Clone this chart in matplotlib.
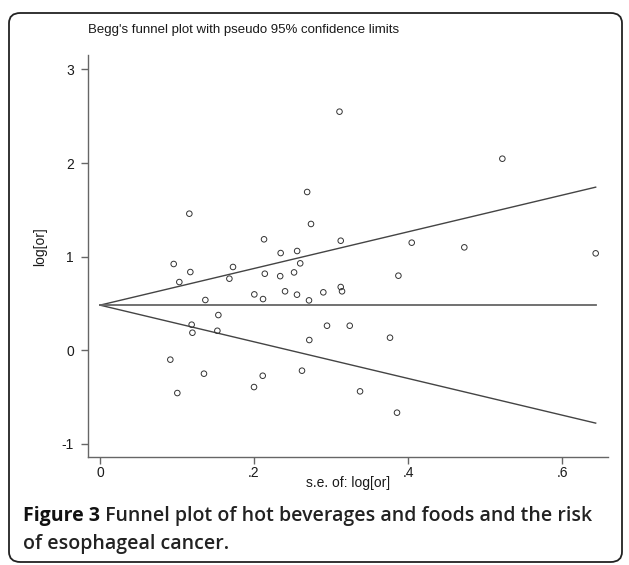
import matplotlib
matplotlib.use("Agg")
import matplotlib.pyplot as plt
import numpy as np
from matplotlib.patches import FancyBboxPatch

# ---- data ----
se = [0.311, 0.269, 0.116, 0.274, 0.213, 0.3126, 0.2346, 0.256, 0.0957, 0.1173,
      0.1727, 0.260, 0.214, 0.234, 0.252, 0.168, 0.103, 0.1368, 0.2004, 0.2117,
      0.2403, 0.2558, 0.2714, 0.290, 0.3126, 0.3143, 0.1537, 0.119, 0.120, 0.1524,
      0.2948, 0.3243, 0.2718, 0.0913, 0.135, 0.2113, 0.2623, 0.200, 0.1004, 0.3377,
      0.3857, 0.6437, 0.3875, 0.3766, 0.5225, 0.4048, 0.4731]
log_or = [2.549, 1.690, 1.458, 1.348, 1.184, 1.169, 1.037, 1.059, 0.920, 0.834,
          0.888, 0.927, 0.816, 0.790, 0.830, 0.763, 0.727, 0.535, 0.595, 0.545,
          0.628, 0.592, 0.531, 0.617, 0.674, 0.628, 0.374, 0.271, 0.185, 0.206,
          0.260, 0.260, 0.107, -0.103, -0.253, -0.275, -0.221, -0.396, -0.460, -0.442,
          -0.670, 1.034, 0.795, 0.132, 2.046, 1.148, 1.098]
pooled = 0.48
x_ticks = [0, 0.2, 0.4, 0.6]
x_ticklabels = ["0", ".2", ".4", ".6"]
y_ticks = [-1, 0, 1, 2, 3]
y_ticklabels = ["-1", "0", "1", "2", "3"]
title = "Begg's funnel plot with pseudo 95% confidence limits"
xlabel = "s.e. of: log[or]"
ylabel = "log[or]"
cap_bold = "Figure 3"
cap_rest1 = " Funnel plot of hot beverages and foods and the risk"
cap_line2 = "of esophageal cancer."

W, H = 629, 565
fig = plt.figure(figsize=(W / 100, H / 100), dpi=100)
fig.patch.set_facecolor("white")

def fx(px):
    return px / W

def fy(py):
    return 1 - py / H

# rounded frame
frame = FancyBboxPatch((fx(9), fy(562)), fx(613), (562 - 13) / H,
                       boxstyle="round,pad=0,rounding_size=0.018",
                       transform=fig.transFigure, facecolor="none",
                       edgecolor="#222222", linewidth=1.3)
fig.patches.append(frame)

ax = fig.add_axes([fx(88), fy(457), (608 - 88) / W, (457 - 55) / H])
ax.set_xlim(-0.0156, 0.6597)
ax.set_ylim(-1.144, 3.155)

# funnel lines
smax = max(se)
s_line = np.array([0.0, smax])
axc = "#444444"
ax.plot(s_line, pooled + 1.96 * s_line, color=axc, lw=1.0)
ax.plot(s_line, pooled - 1.96 * s_line, color=axc, lw=1.0)
ax.plot(s_line, [pooled, pooled], color="#666666", lw=1.3)

ax.scatter(se, log_or, s=16, facecolors="none", edgecolors="#333333",
           linewidths=0.7, zorder=3)

for side in ["top", "right"]:
    ax.spines[side].set_visible(False)
for side in ["left", "bottom"]:
    ax.spines[side].set_color("#666666")
    ax.spines[side].set_linewidth(1.0)

ax.set_xticks(x_ticks)
ax.set_xticklabels(x_ticklabels)
ax.set_yticks(y_ticks)
ax.set_yticklabels(y_ticklabels)
ax.tick_params(axis="both", colors="#666666", length=5, width=1.0,
               labelcolor="#1a1a1a", labelsize=10)
ax.tick_params(axis="x", pad=1.5)
ax.tick_params(axis="y", pad=5)
for lab in ax.get_xticklabels() + ax.get_yticklabels():
    lab.set_fontfamily("Liberation Sans")

fig.text(fx(88.5), fy(30), title, ha="left", va="center", fontsize=9.5,
         family="Liberation Sans", color="#1a1a1a")
fig.text(fx(348), fy(483), xlabel, ha="center", va="center", fontsize=10,
         family="Liberation Sans", color="#1a1a1a")
fig.text(fx(40), fy(247), ylabel, ha="center", va="center", rotation=90,
         fontsize=10, family="Liberation Sans", color="#1a1a1a")

# caption
cap_size = 14
t1 = fig.text(fx(23), fy(516), cap_bold, ha="left", va="center", fontsize=cap_size,
              family="Open Sans", fontweight="bold", color="#111111")
fig.canvas.draw()
bb = t1.get_window_extent()
fig.text(bb.x1 / W, fy(516), cap_rest1, ha="left", va="center", fontsize=cap_size,
         family="Open Sans", fontweight="semibold", color="#222222")
fig.text(fx(23), fy(544), cap_line2, ha="left", va="center", fontsize=cap_size,
         family="Open Sans", fontweight="semibold", color="#222222")

fig.savefig("out.png", dpi=100)
